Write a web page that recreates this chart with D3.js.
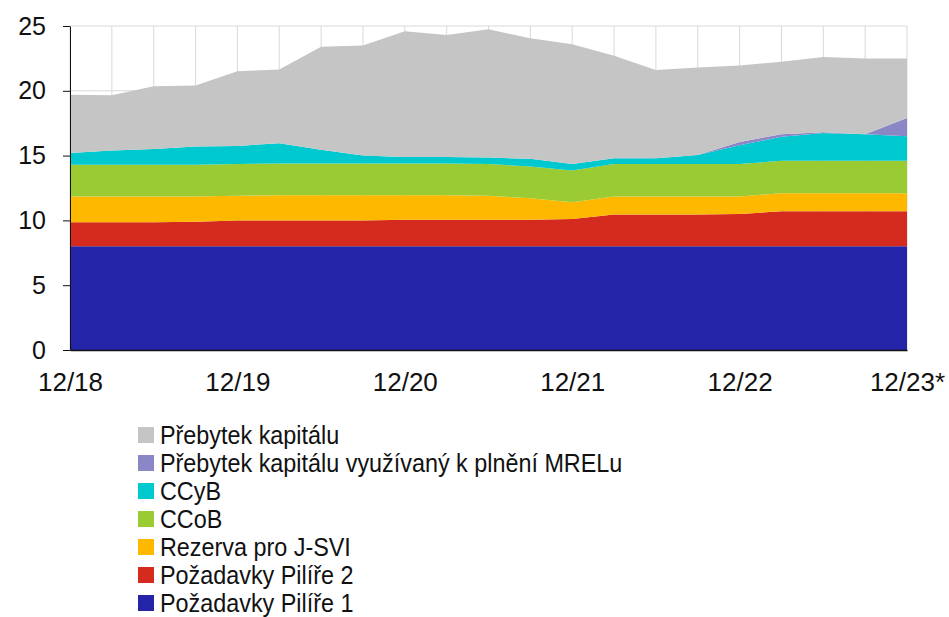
<!DOCTYPE html>
<html>
<head>
<meta charset="utf-8">
<script src="https://cdn.jsdelivr.net/npm/d3@7"></script>
<style>
  body { margin: 0; background: #fff; }
  svg { display: block; font-family: "Liberation Sans", Arial, sans-serif; }
</style>
</head>
<body>
<svg></svg>
<script>
// quarters 12/18 .. 12/23*
var quarters = ["12/18", "3/19", "6/19", "9/19", "12/19", "3/20", "6/20", "9/20", "12/20",
    "3/21", "6/21", "9/21", "12/21", "3/22", "6/22", "9/22", "12/22", "3/23", "6/23", "9/23", "12/23*"];
var xTickLabels = ["12/18", "12/19", "12/20", "12/21", "12/22", "12/23*"];
var yTicks = [0, 5, 10, 15, 20, 25];

// values in %
var pilir1 = [8, 8, 8, 8, 8, 8, 8, 8, 8, 8, 8, 8, 8, 8, 8, 8, 8, 8, 8, 8, 8];
var pilir2 = [1.85, 1.85, 1.85, 1.9, 2.0, 2.0, 2.0, 2.0, 2.05, 2.05, 2.05, 2.05, 2.1, 2.45, 2.45, 2.45, 2.5, 2.7, 2.7, 2.7, 2.7];
var jsvi = [2.0, 2.0, 2.0, 1.95, 1.9, 1.95, 1.95, 1.95, 1.9, 1.9, 1.85, 1.65, 1.3, 1.4, 1.4, 1.4, 1.35, 1.4, 1.4, 1.4, 1.4];
var ccob = [2.45, 2.45, 2.45, 2.45, 2.45, 2.45, 2.45, 2.45, 2.45, 2.45, 2.45, 2.45, 2.45, 2.5, 2.5, 2.5, 2.5, 2.5, 2.5, 2.5, 2.5];
var ccyb = [0.9, 1.1, 1.2, 1.4, 1.4, 1.55, 1.05, 0.6, 0.5, 0.5, 0.5, 0.6, 0.5, 0.45, 0.45, 0.7, 1.45, 1.85, 2.15, 2.05, 1.9];
var mrel = [0, 0, 0, 0, 0, 0, 0, 0, 0, 0, 0, 0, 0, 0, 0, 0, 0.25, 0.2, 0.05, 0, 1.4];
var prebytek = [4.5, 4.25, 4.85, 4.7, 5.75, 5.7, 7.95, 8.5, 9.7, 9.4, 9.9, 9.3, 9.25, 7.9, 6.8, 6.75, 5.9, 5.6, 5.8, 5.85, 4.6];

var series = [
    { key: "p1", name: "Požadavky Pilíře 1", values: pilir1, color: "#2424a8" },
    { key: "p2", name: "Požadavky Pilíře 2", values: pilir2, color: "#d52b1f" },
    { key: "jsvi", name: "Rezerva pro J-SVI", values: jsvi, color: "#ffb800" },
    { key: "ccob", name: "CCoB", values: ccob, color: "#9bcb32" },
    { key: "ccyb", name: "CCyB", values: ccyb, color: "#00c8cf" },
    { key: "mrel", name: "Přebytek kapitálu využívaný k plnění MRELu", values: mrel, color: "#8b86c6" },
    { key: "preb", name: "Přebytek kapitálu", values: prebytek, color: "#c4c5c4" }
];

var svg = d3.select("svg").attr("width", 949).attr("height", 617);

var x = d3.scaleLinear().domain([0, quarters.length - 1]).range([70, 907]);
var y = d3.scaleLinear().domain([0, 25]).range([350, 26]);

// table for the stack
var table = quarters.map(function(q, i){
    var row = { i: i };
    series.forEach(function(s){ row[s.key] = s.values[i]; });
    return row;
});
var stacked = d3.stack().keys(series.map(function(s){ return s.key; }))(table);

// grid
svg.append("g").selectAll("line")
    .data(quarters).enter().append("line")
    .attr("x1", function(d, i){ return x(i); })
    .attr("x2", function(d, i){ return x(i); })
    .attr("y1", y(25)).attr("y2", y(0))
    .attr("stroke", "#d9d9d9").attr("stroke-width", 1);
svg.append("g").selectAll("line")
    .data(yTicks.slice(1)).enter().append("line")
    .attr("x1", x(0)).attr("x2", x(20))
    .attr("y1", function(d){ return y(d); })
    .attr("y2", function(d){ return y(d); })
    .attr("stroke", "#d9d9d9").attr("stroke-width", 1);

var area = d3.area()
    .x(function(d){ return x(d.data.i); })
    .y0(function(d){ return y(d[0]); })
    .y1(function(d){ return y(d[1]); });

svg.append("g").selectAll("path")
    .data(stacked).enter().append("path")
    .attr("d", area)
    .attr("fill", function(d, i){ return series[i].color; });

// axes
var yAxis = svg.append("g")
    .attr("transform", "translate(" + x(0) + ",0)")
    .call(d3.axisLeft(y).tickValues(yTicks).tickSize(7).tickPadding(17).tickSizeOuter(0));
yAxis.selectAll("text").attr("font-size", 25).attr("fill", "#111");
yAxis.selectAll("line, path").attr("stroke", "#111");

var xAxis = svg.append("g")
    .attr("transform", "translate(0," + y(0) + ")")
    .call(d3.axisBottom(x)
        .tickValues(xTickLabels.map(function(l){ return quarters.indexOf(l); }))
        .tickFormat(function(d){ return quarters[d]; })
        .tickSize(0).tickPadding(23));
xAxis.selectAll("text").attr("font-size", 26).attr("fill", "#111");
xAxis.select(".domain").attr("stroke", "#111").attr("stroke-width", 1.5);
xAxis.attr("font-family", null);
yAxis.attr("font-family", null);

// legend (top to bottom = top layer first)
var legendItems = series.slice().reverse();
var legend = svg.append("g").selectAll("g")
    .data(legendItems).enter().append("g")
    .attr("transform", function(d, i){ return "translate(138," + (435 + i * 28) + ")"; });
legend.append("rect")
    .attr("x", 0).attr("y", -8).attr("width", 16).attr("height", 16)
    .attr("fill", function(d){ return d.color; });
// text is a bit narrower in the original
legend.append("text")
    .attr("transform", "translate(22,0) scale(0.935,1)")
    .attr("dy", "0.35em")
    .attr("font-size", 25).attr("fill", "#111")
    .text(function(d){ return d.name; });
</script>
</body>
</html>
